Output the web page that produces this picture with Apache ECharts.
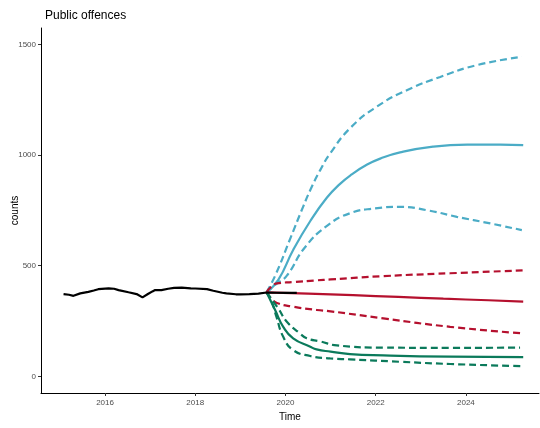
<!DOCTYPE html>
<html>
<head>
<meta charset="utf-8">
<script src="https://cdn.jsdelivr.net/npm/echarts@6/dist/echarts.min.js"></script>
<style>
html,body{margin:0;padding:0;background:#fff;}
#chart{width:540px;height:428px;}
</style>
</head>
<body>
<div id="chart"></div>
<script>
// ---- data (year, count) ----
const observed = [[2015.08,372],[2015.20,369],[2015.30,364],[2015.45,375],[2015.63,382],[2015.75,388],[2015.85,394],[2016.08,398],[2016.20,396],[2016.30,390],[2016.52,380],[2016.70,372],[2016.83,357],[2016.95,372],[2017.05,384],[2017.11,390],[2017.25,390],[2017.40,396],[2017.53,400],[2017.70,401],[2017.90,398],[2018.00,397],[2018.26,394],[2018.40,387],[2018.60,378],[2018.69,375],[2018.90,371],[2019.00,371],[2019.20,372],[2019.40,374],[2019.58,379],[2019.80,378],[2020.00,377],[2020.25,377]];

const blueMid = [[2019.58,380],[2019.84,436],[2020.17,571],[2020.55,702],[2020.92,808],[2021.21,870],[2021.45,910],[2021.81,957],[2022.10,984],[2022.54,1012],[2023.27,1038],[2024.03,1047],[2024.76,1047],[2025.27,1045]];
const blueUpper = [[2019.58,380],[2019.78,459],[2020.11,625],[2020.39,766],[2020.55,842],[2020.77,932],[2021.00,1010],[2021.45,1125],[2022.02,1218],[2022.69,1293],[2023.43,1353],[2024.24,1406],[2025.24,1444]];
const blueLower = [[2019.58,380],[2019.80,418],[2020.03,455],[2020.42,580],[2020.92,680],[2021.43,737],[2021.99,759],[2022.54,766],[2023.13,751],[2023.80,721],[2024.54,691],[2025.24,661]];

const redMid = [[2019.58,380],[2020.50,374],[2021.50,367],[2022.50,359],[2023.50,351],[2024.50,344],[2025.27,338]];
const redUpper = [[2019.58,380],[2019.67,402],[2019.81,420],[2020.17,426],[2020.69,434],[2021.00,438],[2022.17,453],[2023.65,466],[2025.27,479]];
const redLower = [[2019.58,380],[2019.67,355],[2019.81,332],[2020.17,315],[2020.69,300],[2021.00,294],[2022.17,262],[2023.65,224],[2025.27,194]];

const greenMid = [[2019.58,380],[2019.77,300],[2019.95,224],[2020.17,172],[2020.55,134],[2020.69,122],[2021.00,112],[2021.43,101],[2022.17,95],[2023.65,89],[2025.27,87]];
const greenUpper = [[2019.58,380],[2019.84,307],[2020.03,247],[2020.32,194],[2020.47,172],[2020.77,158],[2021.14,140],[2022.17,130],[2023.65,129],[2025.20,130]];
const greenLower = [[2019.58,380],[2019.69,340],[2019.80,269],[2019.95,179],[2020.17,119],[2020.55,92],[2020.99,81],[2021.43,77],[2022.54,66],[2023.65,56],[2025.27,46]];

const xTicks = [2016, 2018, 2020, 2022, 2024];
const yTicks = [0, 500, 1000, 1500];

// ---- styling ----
const BLUE = '#4BACC6', RED = '#B5102E', GREEN = '#0B7A5B';
const FONT = '"Liberation Sans", Arial, sans-serif';
const DASH = [7, 4];

function proj(data, color, dashed) {
  return {
    type: 'line', data: data, showSymbol: false, smooth: 0.5,
    lineStyle: { color: color, width: 2.2, type: dashed ? DASH : 'solid', cap: 'butt' },
    silent: true, animation: false, z: 2
  };
}

const chart = echarts.init(document.getElementById('chart'), null, { renderer: 'canvas' });
chart.setOption({
  backgroundColor: '#fff',
  animation: false,
  title: {
    text: 'Public offences', left: 40, top: 5,
    textStyle: { fontSize: 12, fontWeight: 'normal', color: '#000', fontFamily: FONT }
  },
  grid: { left: 41, right: 1, top: 28, bottom: 35, containLabel: false, outerBoundsMode: 'none' },
  xAxis: {
    type: 'value', min: 2014.58, max: 2025.62,
    name: 'Time', nameLocation: 'middle', nameGap: 19, nameMoveOverlap: false,
    nameTextStyle: { fontSize: 10, color: '#000', fontFamily: FONT },
    axisLine: { show: true, onZero: false, lineStyle: { color: '#000', width: 1 } },
    axisTick: { show: true, length: 3, customValues: xTicks, lineStyle: { color: '#333' } },
    axisLabel: { customValues: xTicks, fontSize: 8, color: '#4D4D4D', margin: 6, fontFamily: FONT,
      formatter: v => String(Math.round(v)) },
    splitLine: { show: false }
  },
  yAxis: {
    type: 'value', min: -75, max: 1574,
    name: 'counts', nameLocation: 'middle', nameGap: 21, nameMoveOverlap: false,
    nameTextStyle: { fontSize: 10, color: '#000', fontFamily: FONT },
    axisLine: { show: true, onZero: false, lineStyle: { color: '#000', width: 1 } },
    axisTick: { show: true, length: 3, customValues: yTicks, lineStyle: { color: '#333' } },
    axisLabel: { customValues: yTicks, fontSize: 8, color: '#4D4D4D', margin: 5, fontFamily: FONT,
      formatter: v => String(Math.round(v)) },
    splitLine: { show: false }
  },
  series: [
    proj(blueUpper, BLUE, true), proj(blueLower, BLUE, true), proj(blueMid, BLUE, false),
    proj(redUpper, RED, true), proj(redLower, RED, true), proj(redMid, RED, false),
    proj(greenUpper, GREEN, true), proj(greenLower, GREEN, true), proj(greenMid, GREEN, false),
    { type: 'line', data: observed, showSymbol: false, smooth: false,
      lineStyle: { color: '#000', width: 2.2 }, silent: true, animation: false, z: 3 }
  ]
});
</script>
</body>
</html>
